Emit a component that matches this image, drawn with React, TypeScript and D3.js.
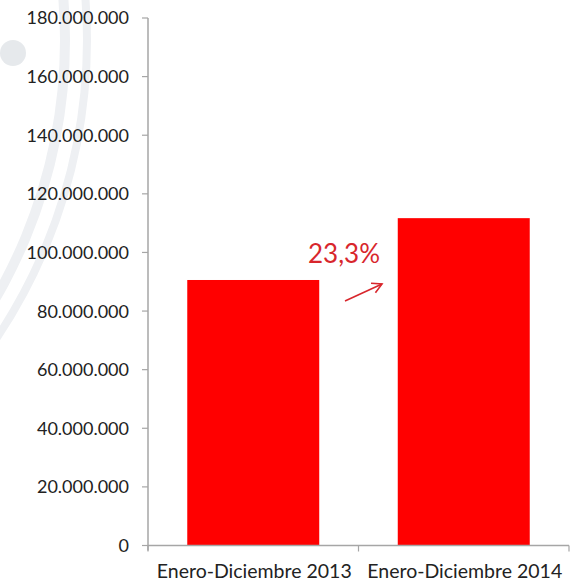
import React from "react";
import * as d3 from "d3";

const categories = ["Enero-Diciembre 2013", "Enero-Diciembre 2014"];
const values = [90600000, 111700000];
const yTicks = [0, 20000000, 40000000, 60000000, 80000000, 100000000, 120000000, 140000000, 160000000, 180000000];
const changeLabel = "23,3%";

const W = 575;
const H = 583;
const FONT = "Lato, 'Open Sans', sans-serif";

const esLocale = d3.formatLocale({ decimal: ",", thousands: ".", grouping: [3], currency: ["", "€"] });
const fmt = esLocale.format(",d");

export default function App() {
  const x0 = 148, x1 = 569, yTop = 18, yBase = 545.5;
  const y = d3.scaleLinear().domain([0, 180000000]).range([yBase, yTop]);
  const x = d3.scaleBand<string>().domain(categories).range([x0, x1]).padding(0);
  const barW = x.bandwidth() * 0.627;

  const arcInner = d3.arc()({ innerRadius: 510, outerRadius: 520, startAngle: 0, endAngle: Math.PI });
  const arcOuter = d3.arc()({ innerRadius: 533, outerRadius: 541, startAngle: 0, endAngle: Math.PI });

  const red = "#ff0000";
  const annRed = "#d8262c";
  const axisGrey = "#a6a6a6";

  // arrow between the bars
  const ax0 = 345, ay0 = 301, ax1 = 382, ay1 = 284;
  const ang = Math.atan2(ay1 - ay0, ax1 - ax0);
  const hl = 11, ha = 0.5;
  const h1 = [ax1 - hl * Math.cos(ang - ha), ay1 - hl * Math.sin(ang - ha)];
  const h2 = [ax1 - hl * Math.cos(ang + ha), ay1 - hl * Math.sin(ang + ha)];

  return (
    <svg width={W} height={H} style={{ position: "absolute", left: 0, top: 0, background: "#fff" }} fontFamily={FONT}>
      <rect x={0} y={0} width={W} height={H} fill="#ffffff" />
      {/* faint background decoration */}
      <g transform="translate(-450,40)" fill="#eef0f3">
        <path d={arcInner as string} />
        <path d={arcOuter as string} />
      </g>
      <circle cx={13} cy={53} r={13} fill="#e6e9ec" />

      {/* bars */}
      {categories.map((c, i) => (
        <rect key={c} x={(x(c) as number) + (x.bandwidth() - barW) / 2} y={y(values[i])} width={barW} height={yBase - y(values[i])} fill={red} />
      ))}

      {/* y axis */}
      <line x1={x0} x2={x0} y1={yTop} y2={yBase + 5} stroke={axisGrey} strokeWidth={1.5} />
      {yTicks.map((t) => (
        <g key={t}>
          <line x1={x0 - 6} x2={x0} y1={y(t)} y2={y(t)} stroke={axisGrey} strokeWidth={1.2} />
          <text x={129} y={y(t)} dy="0.36em" textAnchor="end" fontSize={18} fill="#222">{fmt(t)}</text>
        </g>
      ))}

      {/* x axis */}
      <line x1={x0} x2={x1} y1={yBase} y2={yBase} stroke={axisGrey} strokeWidth={1.5} />
      {[x0, ...categories.map((c) => (x(c) as number) + x.bandwidth())].map((px, i) => (
        <line key={i} x1={px} x2={px} y1={yBase} y2={yBase + 6} stroke={axisGrey} strokeWidth={1.2} />
      ))}
      {categories.map((c) => (
        <text key={c} x={(x(c) as number) + x.bandwidth() / 2 + 1} y={578} textAnchor="middle" fontSize={19.5} fill="#222">{c}</text>
      ))}

      {/* annotation */}
      <text x={344} y={263} textAnchor="middle" fontSize={26} fill={annRed}>{changeLabel}</text>
      <line x1={ax0} y1={ay0} x2={ax1} y2={ay1} stroke={annRed} strokeWidth={1.6} />
      <polyline points={`${h1[0]},${h1[1]} ${ax1},${ay1} ${h2[0]},${h2[1]}`} fill="none" stroke={annRed} strokeWidth={1.6} />
    </svg>
  );
}
